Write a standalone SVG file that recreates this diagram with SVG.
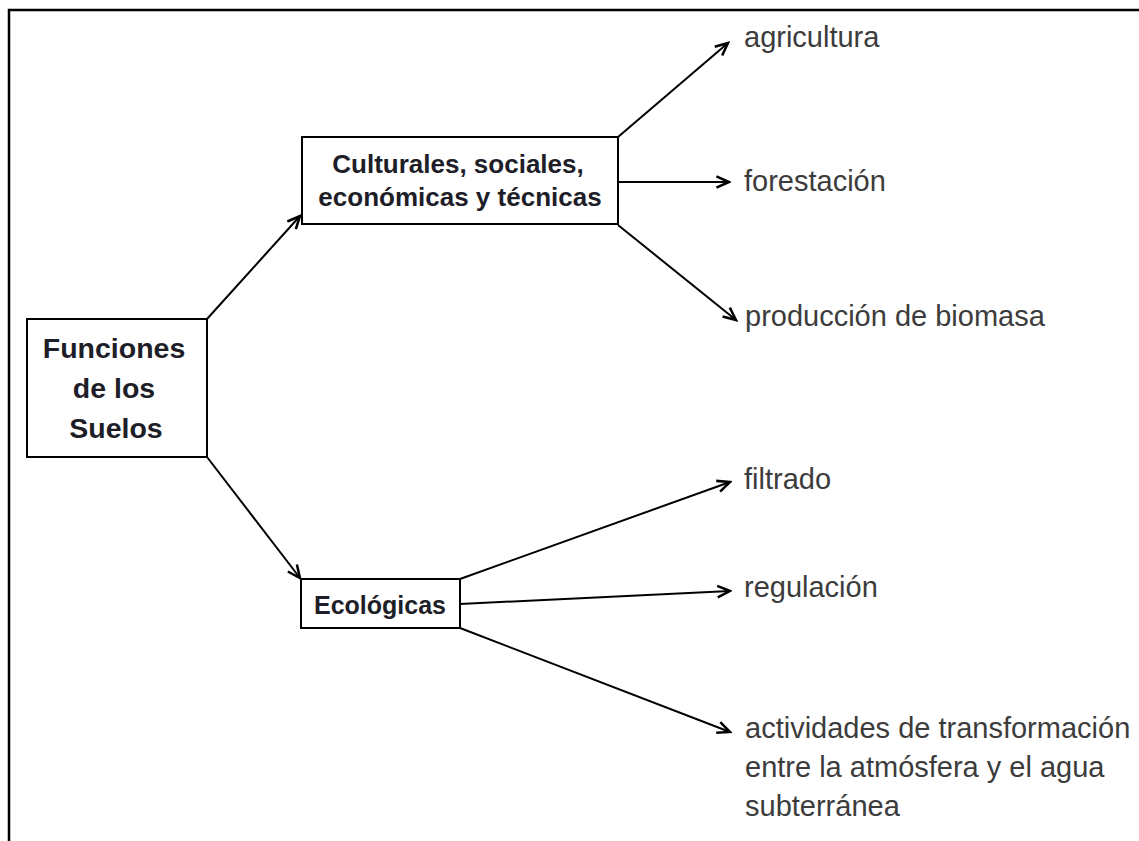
<svg xmlns="http://www.w3.org/2000/svg" width="1139" height="841" viewBox="0 0 1139 841">
<defs>
<marker id="arr" markerUnits="userSpaceOnUse" markerWidth="16" markerHeight="16" refX="12" refY="6" orient="auto" viewBox="0 0 14 12">
<path d="M1,1 L12,6 L1,11" fill="none" stroke="#000" stroke-width="2.2"/>
</marker>
<style>
.box{fill:#fff;stroke:#000;stroke-width:2}
.bt{font-family:"Liberation Sans",Arial,sans-serif;font-weight:bold;fill:#1e1e28;text-anchor:middle}
.lb{font-family:"Liberation Sans",Arial,sans-serif;font-size:29px;fill:#3c3c3c}
.ln{fill:none;stroke:#000;stroke-width:2;marker-end:url(#arr)}
</style>
</defs>
<rect width="1139" height="841" fill="#fff"/>
<path d="M9,841 V10 H1139" fill="none" stroke="#000" stroke-width="2.5"/>
<g id="connectors">
<line class="ln" x1="207" y1="319" x2="300" y2="216"/>
<line class="ln" x1="207" y1="457" x2="300" y2="578"/>
<line class="ln" x1="618" y1="137" x2="728" y2="43"/>
<line class="ln" x1="618" y1="182" x2="729" y2="182"/>
<line class="ln" x1="618" y1="225" x2="736" y2="320"/>
<line class="ln" x1="460" y1="579" x2="730" y2="482"/>
<line class="ln" x1="460" y1="604" x2="730" y2="591"/>
<line class="ln" x1="460" y1="628" x2="730" y2="732"/>
</g>
<g id="funciones">
<rect class="box" x="27" y="319" width="180" height="138"/>
<text class="bt" style="font-size:28.5px"><tspan x="114" y="358">Funciones</tspan><tspan x="114" y="398">de los</tspan><tspan x="116" y="438">Suelos</tspan></text>
</g>
<g id="culturales">
<rect class="box" x="302" y="137" width="316" height="87"/>
<text class="bt" style="font-size:26px"><tspan x="458" y="173">Culturales, sociales,</tspan><tspan x="460" y="206">económicas y técnicas</tspan></text>
</g>
<g id="ecologicas">
<rect class="box" x="301" y="579" width="159" height="49"/>
<text class="bt" style="font-size:25px" x="380" y="614">Ecológicas</text>
</g>
<g id="agricultura"><text class="lb" x="744" y="47">agricultura</text></g>
<g id="forestacion"><text class="lb" x="744" y="191">forestación</text></g>
<g id="produccion"><text class="lb" x="745" y="326">producción de biomasa</text></g>
<g id="filtrado"><text class="lb" x="744" y="489">filtrado</text></g>
<g id="regulacion"><text class="lb" x="744" y="597">regulación</text></g>
<g id="actividades"><text class="lb"><tspan x="745" y="738">actividades de transformación</tspan><tspan x="745" y="777">entre la atmósfera y el agua</tspan><tspan x="745" y="816">subterránea</tspan></text></g>
</svg>
